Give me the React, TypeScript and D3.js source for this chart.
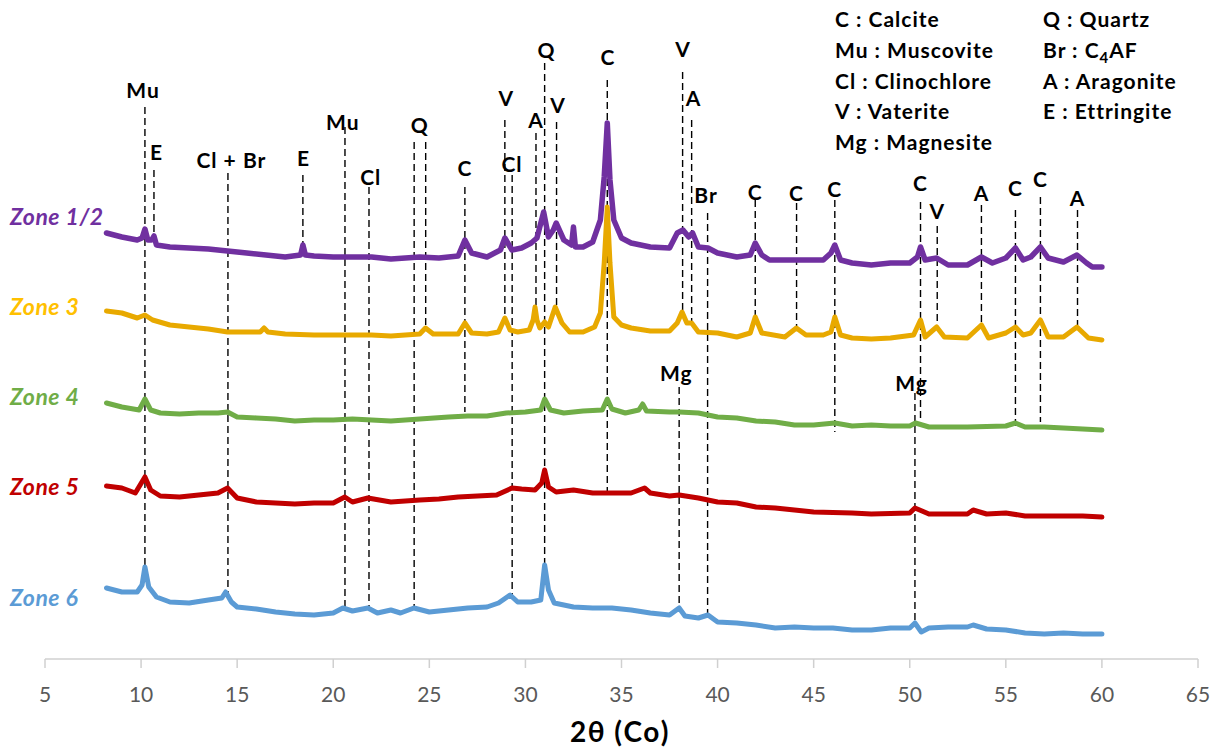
import React from "react";
import * as d3 from "d3";

// ---- data (2θ in degrees, intensity in arbitrary units incl. stacking offset) ----
const zone12: [number, number][] = [
  [8.2, 427], [9.0, 423], [9.8, 420], [10.05, 422], [10.2, 431], [10.35, 420], [10.55, 420], [10.67, 424], [10.8, 415],
  [11.5, 413], [12.5, 412], [13.5, 411], [14.5, 409], [15.5, 407], [16.5, 405], [17.5, 403], [18.3, 405], [18.42, 415],
  [18.55, 405], [19, 404], [20, 403], [21, 403], [22, 403], [23, 401], [24.5, 403], [25.5, 402], [26.5, 404], [26.85, 420],
  [27.2, 407], [28, 403], [28.7, 410], [28.93, 422], [29.3, 410], [29.8, 412], [30.3, 417], [30.6, 422], [30.95, 448],
  [31.2, 423], [31.45, 430], [31.6, 437], [32.0, 420], [32.4, 415], [32.5, 433], [32.6, 413], [33.0, 413], [33.5, 418],
  [33.9, 440], [34.1, 483], [34.26, 537], [34.4, 480], [34.6, 440], [35.0, 422], [35.5, 417], [36.5, 413], [37.5, 412],
  [37.9, 427], [38.2, 430], [38.5, 423], [38.7, 427], [39.0, 413], [39.5, 412], [40, 407], [41, 403], [41.7, 405],
  [41.96, 417], [42.3, 405], [42.7, 400], [43.5, 400], [44.5, 400], [45.5, 400], [45.9, 407], [46.1, 415], [46.4, 400],
  [47, 397], [48, 395], [49, 397], [50, 397], [50.4, 403], [50.56, 413], [50.8, 400], [51.4, 402], [52, 395], [53, 395],
  [53.73, 403], [54.3, 397], [55.0, 402], [55.5, 412], [55.9, 400], [56.3, 403], [56.8, 413], [57.2, 402], [58, 398],
  [58.7, 405], [59.2, 397], [59.5, 393], [60, 393],
];
const zone3: [number, number][] = [
  [8.2, 349], [9, 347], [9.8, 342], [10.2, 345], [10.6, 340], [11.5, 335], [12.5, 333], [13.5, 331], [14.5, 328],
  [15.5, 328], [16.2, 328], [16.4, 332], [16.6, 328], [17.5, 326], [19, 325], [22, 325], [23, 324], [24.5, 326],
  [24.8, 332], [25.2, 326], [26.5, 326], [26.85, 337], [27.2, 327], [28, 326], [28.6, 328], [28.93, 342], [29.2, 330],
  [29.6, 328], [30.2, 330], [30.4, 340], [30.5, 353], [30.6, 340], [30.75, 332], [31.0, 338], [31.2, 333], [31.55, 353],
  [31.9, 337], [32.3, 328], [33, 328], [33.6, 333], [33.9, 347], [34.1, 397], [34.26, 453], [34.4, 397], [34.6, 343],
  [35.0, 335], [35.5, 332], [36.5, 329], [37.5, 329], [37.9, 337], [38.15, 348], [38.4, 337], [38.65, 337], [39, 328],
  [40, 327], [41, 323], [41.7, 327], [41.96, 343], [42.3, 327], [43.5, 323], [44.1, 332], [44.6, 325], [45.5, 325],
  [45.9, 328], [46.1, 343], [46.4, 325], [47, 322], [48, 321], [49, 322], [50.2, 325], [50.56, 340], [50.8, 323],
  [51.4, 333], [51.8, 323], [53, 322], [53.73, 335], [54.1, 322], [55, 327], [55.5, 333], [55.9, 325], [56.3, 327],
  [56.8, 340], [57.2, 323], [58, 323], [58.7, 333], [59.3, 322], [60, 320],
];
const zone4: [number, number][] = [
  [8.2, 257], [9, 253], [9.9, 250], [10.2, 261], [10.5, 250], [11, 247], [12, 246], [13, 247], [14, 247], [14.5, 248],
  [15, 243], [16, 242], [17, 241], [18, 239], [19, 240], [20, 240], [21, 241], [22, 240], [23, 239], [24.5, 241],
  [26, 243], [27, 244], [28, 244], [29, 247], [30, 248], [30.8, 250], [31.0, 261], [31.3, 250], [32, 247], [33, 249],
  [34, 250], [34.26, 261], [34.5, 251], [35.2, 247], [35.9, 250], [36.1, 256], [36.3, 249], [37.5, 248], [38, 248],
  [39, 247], [40, 243], [41, 242], [42, 239], [43, 238], [44, 235], [45, 235], [46.1, 237], [47, 234], [48, 235],
  [49, 234], [50, 234], [50.3, 237], [51, 233], [53, 233], [55, 234], [55.5, 237], [56, 233], [57, 233], [58, 232],
  [59, 231], [60, 230],
];
const zone5: [number, number][] = [
  [8.2, 174], [9, 172], [9.7, 167], [10.2, 183], [10.5, 170], [11, 164], [12, 163], [13, 165], [14, 167], [14.5, 172],
  [15, 162], [16, 158], [17, 157], [18, 156], [19, 157], [20, 157], [20.6, 163], [21, 158], [21.8, 162], [23, 158],
  [24.5, 160], [25.5, 161], [26.5, 163], [27.5, 164], [28.5, 165], [29.3, 172], [29.8, 171], [30.5, 170], [30.85, 177],
  [31.0, 190], [31.2, 173], [31.6, 168], [32.5, 170], [33.5, 167], [35.5, 167], [36.2, 172], [36.5, 167], [37.5, 164],
  [38, 165], [39, 162], [40, 158], [41, 157], [42, 153], [43, 152], [44, 150], [45, 148], [47, 147], [48, 146],
  [50, 147], [50.27, 152], [51, 146], [53, 146], [53.3, 150], [54, 146], [55, 147], [56, 144], [59, 144], [60, 143],
];
const zone6: [number, number][] = [
  [8.2, 72], [9, 68], [9.8, 68], [10.05, 75], [10.2, 93], [10.4, 73], [10.8, 63], [11.5, 58], [12.5, 57], [13.5, 60],
  [14.2, 62], [14.4, 68], [14.7, 58], [15, 53], [16, 51], [17, 48], [18, 46], [19, 45], [20, 47], [20.5, 52], [21, 49],
  [21.8, 52], [22.3, 47], [23, 50], [23.5, 47], [24.2, 52], [25, 48], [26, 50], [27, 52], [28, 53], [28.6, 57],
  [29.2, 65], [29.6, 58], [30.3, 58], [30.8, 60], [31.0, 95], [31.2, 70], [31.5, 57], [32.5, 53], [33.5, 52],
  [34.5, 52], [35.5, 50], [36.5, 47], [37.5, 45], [38.0, 52], [38.3, 44], [39, 42], [39.5, 45], [40, 38], [41, 37],
  [42, 35], [43, 32], [44, 33], [45, 32], [46, 32], [47, 30], [48, 30], [49, 32], [50, 32], [50.27, 37], [50.6, 28],
  [51, 32], [52, 33], [53, 33], [53.3, 35], [54, 31], [55, 30], [56, 27], [57, 26], [58, 27], [59, 26], [60, 26],
];

const zoneNames = ["Zone 1/2", "Zone 3", "Zone 4", "Zone 5", "Zone 6"];
const zoneData = [zone12, zone3, zone4, zone5, zone6];
const zoneLabelLevel = [443, 353, 263, 173, 62];

// dashed reference lines: [2θ, top intensity, bottom intensity]
const refLines: [number, number, number][] = [
  [10.2, 553, 93], [10.67, 490, 420], [14.52, 487, 67], [18.42, 485, 412], [20.61, 533, 53], [21.86, 473, 52],
  [24.21, 518, 52], [24.81, 518, 332], [26.85, 473, 248], [28.93, 540, 340], [29.31, 485, 63], [30.55, 527, 353],
  [31.0, 597, 93], [31.62, 538, 353], [34.26, 580, 163], [38.18, 588, 347], [38.65, 540, 337], [39.48, 447, 47],
  [38.0, 273, 52], [41.96, 460, 343], [44.11, 457, 332], [46.1, 460, 228], [50.56, 458, 240], [51.43, 434, 333],
  [53.73, 455, 337], [55.5, 450, 233], [56.8, 463, 238], [58.73, 450, 335], [50.27, 267, 37],
];
// phase labels: [text, 2θ, intensity level]
const phaseLabels: [string, number, number][] = [
  ["Mu", 10.1, 570], ["E", 10.8, 508], ["Cl + Br", 14.7, 500], ["E", 18.45, 502], ["Mu", 20.5, 538], ["Cl", 21.95, 483],
  ["Q", 24.5, 535], ["C", 26.85, 492], ["V", 29.0, 562], ["Cl", 29.3, 496], ["A", 30.55, 540], ["Q", 31.1, 610],
  ["V", 31.7, 555], ["C", 34.3, 603], ["V", 38.2, 611], ["A", 38.75, 562], ["Br", 39.4, 465], ["C", 41.96, 468],
  ["C", 44.11, 467], ["C", 46.1, 471], ["C", 50.56, 477], ["V", 51.43, 449], ["A", 53.73, 467], ["C", 55.5, 472],
  ["C", 56.8, 481], ["A", 58.73, 462], ["Mg", 37.85, 287], ["Mg", 50.1, 277],
];
const legendCol1 = ["C : Calcite", "Mu : Muscovite", "Cl : Clinochlore", "V : Vaterite", "Mg : Magnesite"];
const legendCol2 = ["Q : Quartz", "Br : C|4|AF", "A : Aragonite", "E : Ettringite"];
const xTicks = [5, 10, 15, 20, 25, 30, 35, 40, 45, 50, 55, 60, 65];

const traceColors = ["#7030A0", "#E8A900", "#70AD47", "#C00000", "#5B9BD5"];
const labelColors = ["#7030A0", "#FFC000", "#70AD47", "#C00000", "#5B9BD5"];

const W = 1218, H = 751;
const FONT = "Lato, 'Open Sans', sans-serif";

export default function App() {
  const x = d3.scaleLinear().domain([5, 65]).range([45, 1198]);
  const y = d3.scaleLinear().domain([0, 660]).range([660, 0]);
  const line = d3.line<[number, number]>().x(d => x(d[0])).y(d => y(d[1]));
  const axisY = 659;

  const renderLegend = (s: string) => {
    const parts = s.split("|");
    if (parts.length === 1) return s;
    return (
      <>
        {parts[0]}
        <tspan fontSize={15} dy={5}>{parts[1]}</tspan>
        <tspan dy={-5}>{parts[2]}</tspan>
      </>
    );
  };

  return (
    <svg width={W} height={H} style={{ position: "absolute", left: 0, top: 0, background: "#fff" }}>
      <rect x={0} y={0} width={W} height={H} fill="#fff" />
      {/* dashed reference lines */}
      {refLines.map(([t, top, bot], i) => (
        <line key={"r" + i} x1={x(t)} x2={x(t)} y1={y(top)} y2={y(bot)} stroke="#000" strokeWidth={1.4} strokeDasharray="7,4" />
      ))}
      {/* traces */}
      {zoneData.map((d, i) => (
        <path key={"z" + i} d={line(d) || ""} fill="none" stroke={traceColors[i]} strokeWidth={i === 0 ? 5.5 : 5} strokeLinejoin="round" strokeLinecap="round" />
      ))}
      {/* zone labels */}
      {zoneNames.map((n, i) => (
        <text key={"zl" + i} x={10} y={y(zoneLabelLevel[i])} dy="0.35em" fill={labelColors[i]} fontFamily={FONT} fontWeight={700} fontStyle="italic" fontSize={23} letterSpacing={0.5}>
          {n}
        </text>
      ))}
      {/* phase labels */}
      {phaseLabels.map(([s, t, lv], i) => (
        <text key={"p" + i} x={x(t)} y={y(lv)} dy="0.36em" textAnchor="middle" fontFamily={FONT} fontWeight={700} fontSize={21} letterSpacing={1} fill="#000">
          {s}
        </text>
      ))}
      {/* legend */}
      {legendCol1.map((s, i) => (
        <text key={"l1" + i} x={835} y={27 + i * 30.8} fontFamily={FONT} fontWeight={700} fontSize={21} letterSpacing={1} fill="#000">{s}</text>
      ))}
      {legendCol2.map((s, i) => (
        <text key={"l2" + i} x={1043} y={27 + i * 30.8} fontFamily={FONT} fontWeight={700} fontSize={21} letterSpacing={1} fill="#000">{renderLegend(s)}</text>
      ))}
      {/* x axis */}
      <line x1={x(5)} x2={x(65)} y1={axisY} y2={axisY} stroke="#D0D0D0" strokeWidth={1.5} />
      {xTicks.map(t => (
        <g key={"t" + t}>
          <line x1={x(t)} x2={x(t)} y1={axisY} y2={axisY + 9} stroke="#D0D0D0" strokeWidth={1.5} />
          <text x={x(t)} y={702} textAnchor="middle" fontFamily={FONT} fontSize={21} fill="#595959">{t}</text>
        </g>
      ))}
      <text x={620} y={742} textAnchor="middle" fontFamily={FONT} fontWeight={700} fontSize={28} letterSpacing={1.5} fill="#000">2θ (Co)</text>
    </svg>
  );
}
